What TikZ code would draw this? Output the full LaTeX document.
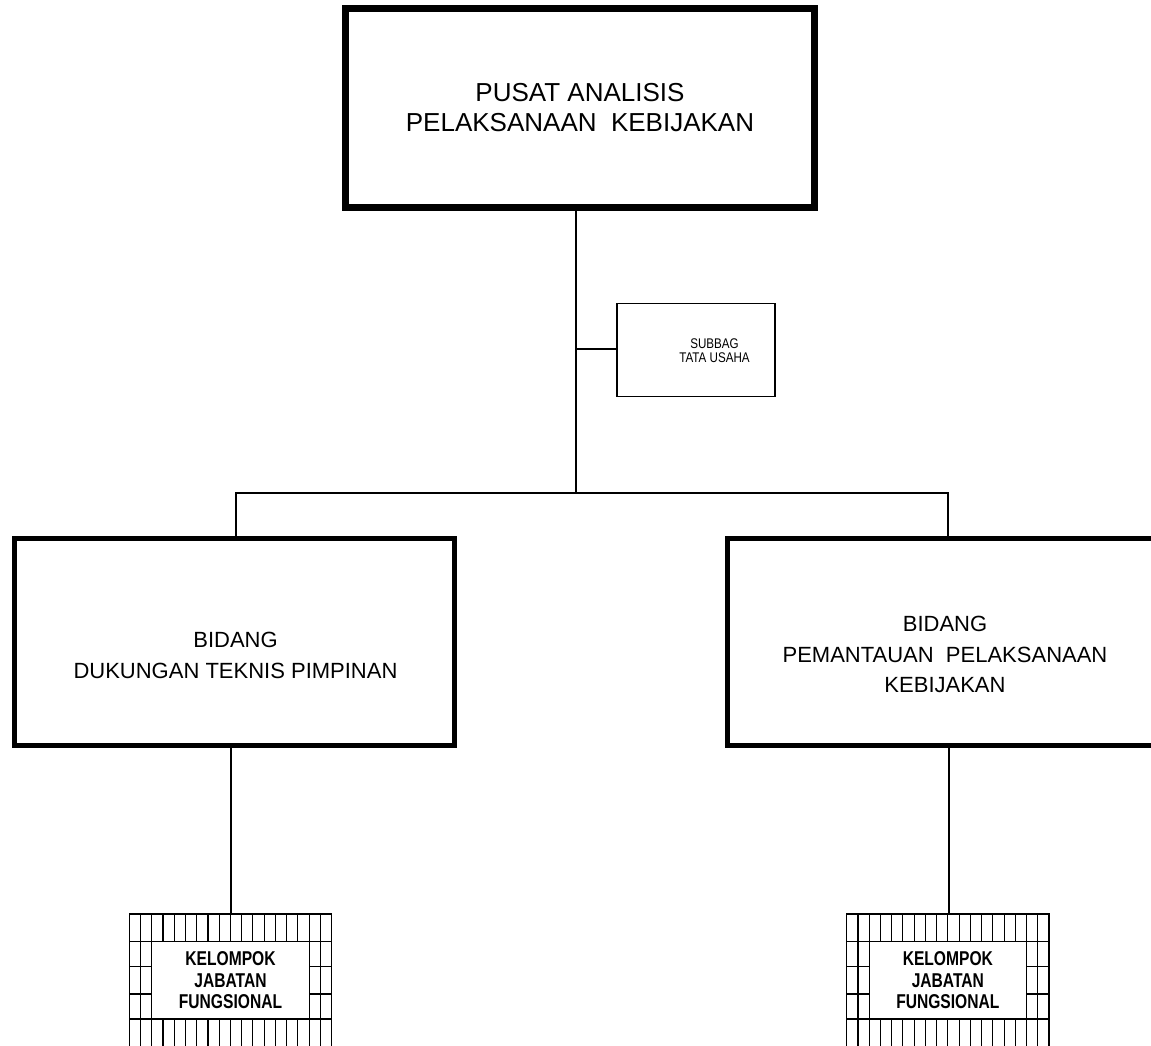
\documentclass[tikz,border=0pt]{standalone}
\usepackage{fontspec}
\setmainfont{Liberation Sans}
\newfontfamily\narrowsans[FakeStretch=0.78]{Liberation Sans}
\newfontfamily\subfont[FakeStretch=0.83]{Liberation Sans}
\newcommand{\kjfgrid}[2]{%
  \begin{scope}[shift={(#1,#2)}, gridline]
    \draw (0,0) rectangle (202.3,27.7);
    \draw (0,105) rectangle (202.3,132.7);
    \foreach \i in {1,...,17} {
      \draw ({\i*11.24},0) -- ({\i*11.24},27.7);
      \draw ({\i*11.24},105) -- ({\i*11.24},132.7);
    }
    \foreach \xx in {0,11.24,22.48,179.82,191.06,202.3} {
      \draw (\xx,27.7) -- (\xx,105);
    }
    \foreach \yy in {52.7,80} {
      \draw (0,\yy) -- (22.48,\yy);
      \draw (179.82,\yy) -- (202.3,\yy);
    }
  \end{scope}}
\begin{document}
\begin{tikzpicture}[x=1pt,y=-1pt,
  box/.style={draw, rectangle, inner sep=0pt, fill=white},
  conn/.style={line width=2pt},
  gridline/.style={line width=1.1pt},
  lbl/.style={align=center, inner sep=0pt},
  kjf/.style={draw, gridline, rectangle, inner sep=0pt, minimum width=157.4pt, minimum height=77.3pt,
    align=center, font=\narrowsans\bfseries\fontsize{20}{21.7}\selectfont}]
\useasboundingbox (0,0) rectangle (1151,1045);
\clip (0,0) rectangle (1151,1045);

% coordinates for connectors
\coordinate (bus) at (575.5,492.7);
\coordinate (busL) at (236,492.7);
\coordinate (busR) at (948,492.7);
\coordinate (tu) at (575.5,349);
\coordinate (d1) at (231,914);
\coordinate (d2) at (949,914);

% boxes
\node[box, line width=7pt, minimum width=469pt, minimum height=198.3pt] (pusat) at (579.5,107.85) {};
\node[lbl, font=\fontsize{26}{30}\selectfont] (pusattxt) at (580,107.5)
  {PUSAT ANALISIS\\PELAKSANAAN\ \ KEBIJAKAN};

\node[box, line width=1.5pt, minimum width=158pt, minimum height=93.4pt] (subbag) at (696,350) {};
\node[lbl, font=\subfont\fontsize{14}{14.7}\selectfont] (subbagtxt) at (714.5,350.7)
  {SUBBAG\\TATA USAHA};

\node[box, line width=5pt, minimum width=440pt, minimum height=207.5pt] (bid1) at (234,641.8) {};
\node[lbl, font=\fontsize{22}{31}\selectfont] (bid1txt) at (235.5,655.5)
  {BIDANG\\DUKUNGAN TEKNIS PIMPINAN};

\node[box, line width=5pt, minimum width=435pt, minimum height=207.5pt] (bid2) at (945,641.9) {};
\node[lbl, font=\fontsize{22}{30.7}\selectfont] (bid2txt) at (945,654.5)
  {BIDANG\\PEMANTAUAN\ \ PELAKSANAAN\\KEBIJAKAN};

% connectors
\draw[conn] (pusat.south -| bus) -- (bus);
\draw[conn] (tu) -- (tu -| subbag.west);
\draw[conn] (bid1.north -| busL) -- (busL) -- (busR) -- (bid2.north -| busR);
\draw[conn] (bid1.south -| d1) -- (d1);
\draw[conn] (bid2.south -| d2) -- (d2);

% functional groups
\kjfgrid{129.3}{914}
\node[kjf] (kjf1) at (230.5,980.35) {KELOMPOK\\JABATAN\\FUNGSIONAL};
\kjfgrid{846.7}{914}
\node[kjf] (kjf2) at (947.85,980.35) {KELOMPOK\\JABATAN\\FUNGSIONAL};
\end{tikzpicture}
\end{document}
